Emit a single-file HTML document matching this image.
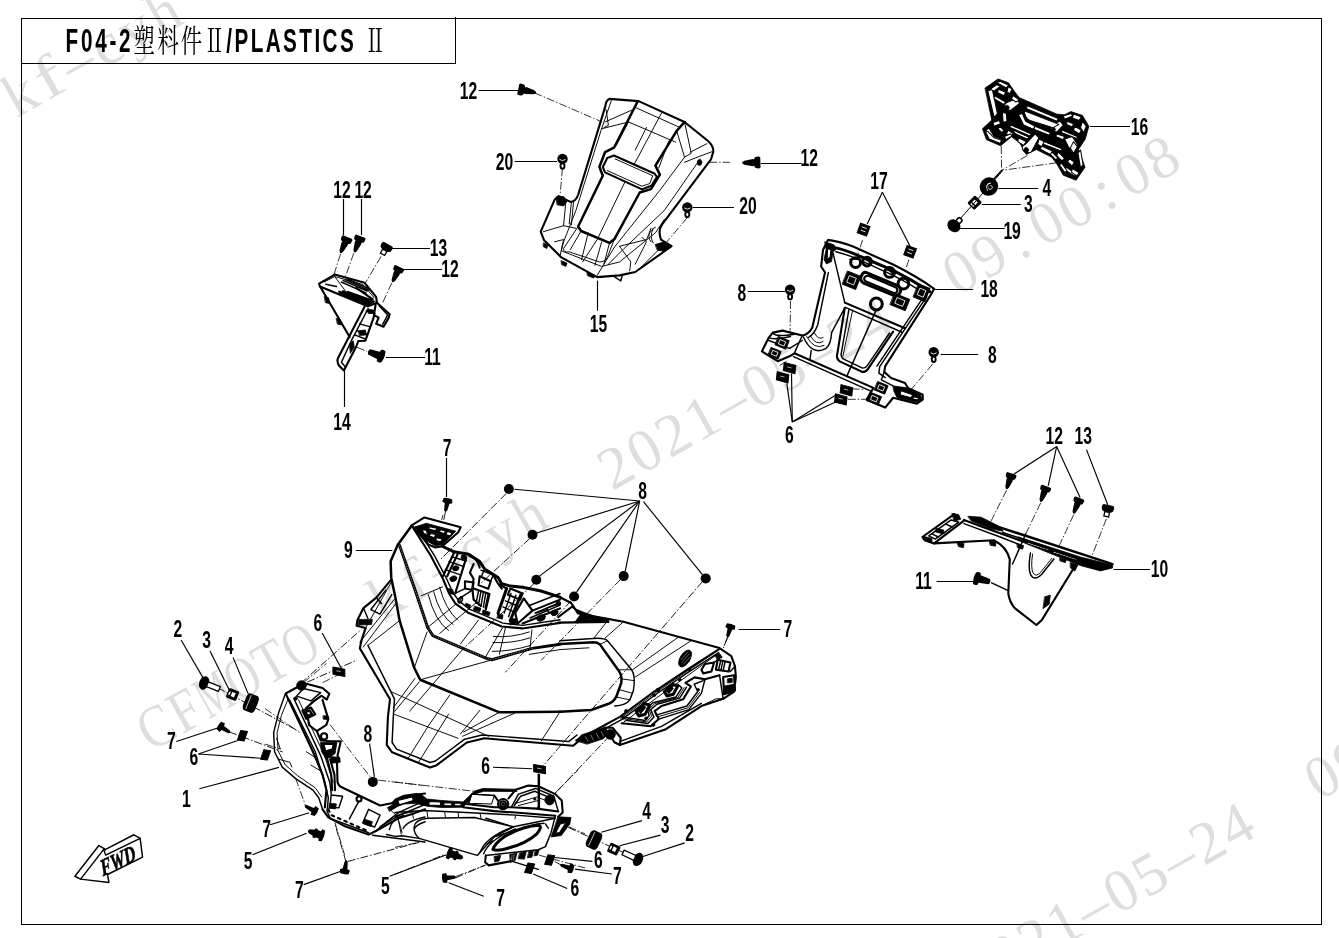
<!DOCTYPE html>
<html><head><meta charset="utf-8"><title>F04-2 PLASTICS II</title>
<style>
html,body{margin:0;padding:0;background:#fff;}
body{width:1339px;height:938px;overflow:hidden;font-family:"Liberation Sans",sans-serif;}
svg{display:block;}
svg{will-change:transform;opacity:0.9999;}
.lb{font-family:"Liberation Sans",sans-serif;font-weight:bold;font-size:23.9px;fill:#000;}
.tt{font-family:"Liberation Sans",sans-serif;font-weight:bold;font-size:32.3px;fill:#000;}
.tc{font-family:"Liberation Serif","Noto Serif CJK SC",serif;font-weight:normal;font-size:32.3px;fill:#000;}
.wm{font-family:"Liberation Serif",serif;font-size:60px;fill:#dedede;}
.ld{stroke:#000;stroke-width:1.15;fill:none;}
.dd{stroke:#000;stroke-width:1;fill:none;stroke-dasharray:9 2 2 2;}
.p{stroke:#000;fill:none;stroke-linejoin:round;stroke-linecap:round;}
.k{fill:#000;stroke:#000;stroke-linejoin:round;}
.w{fill:#fff;stroke:#000;stroke-linejoin:round;}
</style></head><body>
<svg width="1339" height="938" viewBox="0 0 1339 938">
<rect x="0" y="0" width="1339" height="938" fill="#fff"/>

<g id="wm">
<text class="wm" text-anchor="middle" transform="translate(165.8,743.9) rotate(-29.5) scale(0.85,1)">C</text>
<text class="wm" text-anchor="middle" transform="translate(194.5,727.6) rotate(-29.5) scale(0.85,1)">F</text>
<text class="wm" text-anchor="middle" transform="translate(223.2,711.4) rotate(-29.5) scale(0.62,1)">M</text>
<text class="wm" text-anchor="middle" transform="translate(251.9,695.1) rotate(-29.5) scale(0.75,1)">O</text>
<text class="wm" text-anchor="middle" transform="translate(280.6,678.9) rotate(-29.5) scale(0.85,1)">T</text>
<text class="wm" text-anchor="middle" transform="translate(309.4,662.6) rotate(-29.5) scale(0.75,1)">O</text>
<text class="wm" text-anchor="middle" transform="translate(395.5,613.9) rotate(-29.5) scale(1.0,1)">k</text>
<text class="wm" text-anchor="middle" transform="translate(424.3,597.6) rotate(-29.5) scale(1.3,1)">f</text>
<text class="wm" text-anchor="middle" transform="translate(453.0,581.4) rotate(-29.5) scale(1.0,1)">–</text>
<text class="wm" text-anchor="middle" transform="translate(481.7,565.1) rotate(-29.5) scale(1.0,1)">c</text>
<text class="wm" text-anchor="middle" transform="translate(510.4,548.9) rotate(-29.5) scale(1.0,1)">y</text>
<text class="wm" text-anchor="middle" transform="translate(539.1,532.6) rotate(-29.5) scale(0.95,1)">h</text>
<text class="wm" text-anchor="middle" transform="translate(625.3,483.9) rotate(-29.5) scale(1.0,1)">2</text>
<text class="wm" text-anchor="middle" transform="translate(654.0,467.6) rotate(-29.5) scale(1.0,1)">0</text>
<text class="wm" text-anchor="middle" transform="translate(682.8,451.4) rotate(-29.5) scale(1.0,1)">2</text>
<text class="wm" text-anchor="middle" transform="translate(711.5,435.1) rotate(-29.5) scale(1.0,1)">1</text>
<text class="wm" text-anchor="middle" transform="translate(740.2,418.9) rotate(-29.5) scale(1.0,1)">–</text>
<text class="wm" text-anchor="middle" transform="translate(768.9,402.6) rotate(-29.5) scale(1.0,1)">0</text>
<text class="wm" text-anchor="middle" transform="translate(797.6,386.4) rotate(-29.5) scale(1.0,1)">5</text>
<text class="wm" text-anchor="middle" transform="translate(826.4,370.1) rotate(-29.5) scale(1.0,1)">–</text>
<text class="wm" text-anchor="middle" transform="translate(855.1,353.9) rotate(-29.5) scale(1.0,1)">2</text>
<text class="wm" text-anchor="middle" transform="translate(883.8,337.6) rotate(-29.5) scale(1.0,1)">4</text>
<text class="wm" text-anchor="middle" transform="translate(970.0,288.9) rotate(-29.5) scale(1.0,1)">0</text>
<text class="wm" text-anchor="middle" transform="translate(998.7,272.6) rotate(-29.5) scale(1.0,1)">9</text>
<text class="wm" text-anchor="middle" transform="translate(1027.4,256.4) rotate(-29.5) scale(1.0,1)">:</text>
<text class="wm" text-anchor="middle" transform="translate(1056.1,240.1) rotate(-29.5) scale(1.0,1)">0</text>
<text class="wm" text-anchor="middle" transform="translate(1084.9,223.9) rotate(-29.5) scale(1.0,1)">0</text>
<text class="wm" text-anchor="middle" transform="translate(1113.6,207.6) rotate(-29.5) scale(1.0,1)">:</text>
<text class="wm" text-anchor="middle" transform="translate(1142.3,191.4) rotate(-29.5) scale(1.0,1)">0</text>
<text class="wm" text-anchor="middle" transform="translate(1171.0,175.1) rotate(-29.5) scale(1.0,1)">8</text>
<text class="wm" text-anchor="middle" transform="translate(-200.2,240.9) rotate(-29.5) scale(0.85,1)">C</text>
<text class="wm" text-anchor="middle" transform="translate(-171.5,224.6) rotate(-29.5) scale(0.85,1)">F</text>
<text class="wm" text-anchor="middle" transform="translate(-142.8,208.4) rotate(-29.5) scale(0.62,1)">M</text>
<text class="wm" text-anchor="middle" transform="translate(-114.1,192.1) rotate(-29.5) scale(0.75,1)">O</text>
<text class="wm" text-anchor="middle" transform="translate(-85.4,175.9) rotate(-29.5) scale(0.85,1)">T</text>
<text class="wm" text-anchor="middle" transform="translate(-56.6,159.6) rotate(-29.5) scale(0.75,1)">O</text>
<text class="wm" text-anchor="middle" transform="translate(29.5,110.9) rotate(-29.5) scale(1.0,1)">k</text>
<text class="wm" text-anchor="middle" transform="translate(58.3,94.6) rotate(-29.5) scale(1.3,1)">f</text>
<text class="wm" text-anchor="middle" transform="translate(87.0,78.4) rotate(-29.5) scale(1.0,1)">–</text>
<text class="wm" text-anchor="middle" transform="translate(115.7,62.1) rotate(-29.5) scale(1.0,1)">c</text>
<text class="wm" text-anchor="middle" transform="translate(144.4,45.9) rotate(-29.5) scale(1.0,1)">y</text>
<text class="wm" text-anchor="middle" transform="translate(173.1,29.6) rotate(-29.5) scale(0.95,1)">h</text>
<text class="wm" text-anchor="middle" transform="translate(259.3,-19.1) rotate(-29.5) scale(1.0,1)">2</text>
<text class="wm" text-anchor="middle" transform="translate(288.0,-35.4) rotate(-29.5) scale(1.0,1)">0</text>
<text class="wm" text-anchor="middle" transform="translate(316.8,-51.6) rotate(-29.5) scale(1.0,1)">2</text>
<text class="wm" text-anchor="middle" transform="translate(345.5,-67.9) rotate(-29.5) scale(1.0,1)">1</text>
<text class="wm" text-anchor="middle" transform="translate(374.2,-84.1) rotate(-29.5) scale(1.0,1)">–</text>
<text class="wm" text-anchor="middle" transform="translate(402.9,-100.4) rotate(-29.5) scale(1.0,1)">0</text>
<text class="wm" text-anchor="middle" transform="translate(431.6,-116.6) rotate(-29.5) scale(1.0,1)">5</text>
<text class="wm" text-anchor="middle" transform="translate(460.4,-132.9) rotate(-29.5) scale(1.0,1)">–</text>
<text class="wm" text-anchor="middle" transform="translate(489.1,-149.1) rotate(-29.5) scale(1.0,1)">2</text>
<text class="wm" text-anchor="middle" transform="translate(517.8,-165.4) rotate(-29.5) scale(1.0,1)">4</text>
<text class="wm" text-anchor="middle" transform="translate(604.0,-214.1) rotate(-29.5) scale(1.0,1)">0</text>
<text class="wm" text-anchor="middle" transform="translate(632.7,-230.4) rotate(-29.5) scale(1.0,1)">9</text>
<text class="wm" text-anchor="middle" transform="translate(661.4,-246.6) rotate(-29.5) scale(1.0,1)">:</text>
<text class="wm" text-anchor="middle" transform="translate(690.1,-262.9) rotate(-29.5) scale(1.0,1)">0</text>
<text class="wm" text-anchor="middle" transform="translate(718.9,-279.1) rotate(-29.5) scale(1.0,1)">0</text>
<text class="wm" text-anchor="middle" transform="translate(747.6,-295.4) rotate(-29.5) scale(1.0,1)">:</text>
<text class="wm" text-anchor="middle" transform="translate(776.3,-311.6) rotate(-29.5) scale(1.0,1)">0</text>
<text class="wm" text-anchor="middle" transform="translate(805.0,-327.9) rotate(-29.5) scale(1.0,1)">8</text>
<text class="wm" text-anchor="middle" transform="translate(527.8,1248.9) rotate(-29.5) scale(0.85,1)">C</text>
<text class="wm" text-anchor="middle" transform="translate(556.5,1232.6) rotate(-29.5) scale(0.85,1)">F</text>
<text class="wm" text-anchor="middle" transform="translate(585.2,1216.4) rotate(-29.5) scale(0.62,1)">M</text>
<text class="wm" text-anchor="middle" transform="translate(613.9,1200.1) rotate(-29.5) scale(0.75,1)">O</text>
<text class="wm" text-anchor="middle" transform="translate(642.6,1183.9) rotate(-29.5) scale(0.85,1)">T</text>
<text class="wm" text-anchor="middle" transform="translate(671.4,1167.6) rotate(-29.5) scale(0.75,1)">O</text>
<text class="wm" text-anchor="middle" transform="translate(757.5,1118.9) rotate(-29.5) scale(1.0,1)">k</text>
<text class="wm" text-anchor="middle" transform="translate(786.3,1102.6) rotate(-29.5) scale(1.3,1)">f</text>
<text class="wm" text-anchor="middle" transform="translate(815.0,1086.4) rotate(-29.5) scale(1.0,1)">–</text>
<text class="wm" text-anchor="middle" transform="translate(843.7,1070.1) rotate(-29.5) scale(1.0,1)">c</text>
<text class="wm" text-anchor="middle" transform="translate(872.4,1053.9) rotate(-29.5) scale(1.0,1)">y</text>
<text class="wm" text-anchor="middle" transform="translate(901.1,1037.6) rotate(-29.5) scale(0.95,1)">h</text>
<text class="wm" text-anchor="middle" transform="translate(987.3,988.9) rotate(-29.5) scale(1.0,1)">2</text>
<text class="wm" text-anchor="middle" transform="translate(1016.0,972.6) rotate(-29.5) scale(1.0,1)">0</text>
<text class="wm" text-anchor="middle" transform="translate(1044.8,956.4) rotate(-29.5) scale(1.0,1)">2</text>
<text class="wm" text-anchor="middle" transform="translate(1073.5,940.1) rotate(-29.5) scale(1.0,1)">1</text>
<text class="wm" text-anchor="middle" transform="translate(1102.2,923.9) rotate(-29.5) scale(1.0,1)">–</text>
<text class="wm" text-anchor="middle" transform="translate(1130.9,907.6) rotate(-29.5) scale(1.0,1)">0</text>
<text class="wm" text-anchor="middle" transform="translate(1159.6,891.4) rotate(-29.5) scale(1.0,1)">5</text>
<text class="wm" text-anchor="middle" transform="translate(1188.4,875.1) rotate(-29.5) scale(1.0,1)">–</text>
<text class="wm" text-anchor="middle" transform="translate(1217.1,858.9) rotate(-29.5) scale(1.0,1)">2</text>
<text class="wm" text-anchor="middle" transform="translate(1245.8,842.6) rotate(-29.5) scale(1.0,1)">4</text>
<text class="wm" text-anchor="middle" transform="translate(1332.0,793.9) rotate(-29.5) scale(1.0,1)">0</text>
<text class="wm" text-anchor="middle" transform="translate(1360.7,777.6) rotate(-29.5) scale(1.0,1)">9</text>
<text class="wm" text-anchor="middle" transform="translate(1389.4,761.4) rotate(-29.5) scale(1.0,1)">:</text>
<text class="wm" text-anchor="middle" transform="translate(1418.1,745.1) rotate(-29.5) scale(1.0,1)">0</text>
<text class="wm" text-anchor="middle" transform="translate(1446.9,728.9) rotate(-29.5) scale(1.0,1)">0</text>
<text class="wm" text-anchor="middle" transform="translate(1475.6,712.6) rotate(-29.5) scale(1.0,1)">:</text>
<text class="wm" text-anchor="middle" transform="translate(1504.3,696.4) rotate(-29.5) scale(1.0,1)">0</text>
<text class="wm" text-anchor="middle" transform="translate(1533.0,680.1) rotate(-29.5) scale(1.0,1)">8</text>
</g>
<g stroke="#000" stroke-width="1" fill="none" shape-rendering="crispEdges">
<path d="M21.5 18.5 H1321.5 V924.5 H21.5 Z" />
<path d="M21.5 63.5 H455.5 V17" />
</g>
<g id="title">
<text class="tt" transform="translate(65.6,51.6) scale(0.64,1)" letter-spacing="4.3">F04-2</text>
<text class="tc" transform="translate(133.5,51.6) scale(0.66,1)">塑</text>
<text class="tc" transform="translate(157.4,51.6) scale(0.66,1)">料</text>
<text class="tc" transform="translate(180.7,51.6) scale(0.66,1)">件</text>
<text class="tc" transform="translate(203.8,51.6) scale(0.66,1)">Ⅱ</text>
<text class="tt" transform="translate(226.3,51.6) scale(0.64,1)" letter-spacing="3.8">/PLASTICS</text>
<text class="tc" transform="translate(364.4,51.6) scale(0.66,1)">Ⅱ</text>
</g>
<!-- 01a_head_left.svg -->
<g transform="translate(265,675) scale(0.19185)" fill="none" stroke="#000" stroke-linejoin="round" stroke-linecap="round">

<path stroke-width="7.56" d="M105 100 L70 200 L45 300 L50 400 L90 480 L160 540 L250 600 L280 640 L300 700"/>
<path stroke-width="10.95" d="M300 700 L330 742 L420 790 L540 832 L580 812 L700 745 L780 720 L834 700"/>
<path stroke-width="4.95" d="M120 125 L86 210 L63 300 L68 395 L105 468 L170 525 L262 588 L295 635"/>
<path stroke-width="10.95" d="M108 98 L180 250 L250 400 L300 520 L320 600 L312 690"/>
<path stroke-width="7.56" d="M128 130 L262 400 L312 560 L330 640 L325 700"/>
<path stroke-width="7.56" d="M150 122 L290 420 L338 560 L345 620"/>
<path stroke-width="4.95" d="M175 130 L310 420 L355 560"/>
<path stroke-width="4.95" d="M60 330 L80 385 M75 440 L130 455 L140 480 M240 470 L290 500 M215 400 L262 430"/>
<path stroke-width="10.95" d="M110 95 L165 65 L200 42 L300 68 L335 98 L322 128 L295 108 L250 140 L215 172"/>
<path stroke-width="7.56" d="M200 70 L290 92 L240 135 L165 110 Z"/>
<circle fill="#000" stroke-width="4.17" cx="190" cy="55" r="25"/>
<circle fill="#000" stroke-width="4.17" cx="160" cy="122" r="9"/>
<path stroke-width="10.95" d="M300 130 L330 230 L320 260 L270 292 L230 262 L215 172"/>
<path stroke-width="10.95" d="M195 185 L240 170 L262 205 L215 228 Z"/>
<path fill="#000" stroke-width="4.17" d="M205 190 L235 180 L250 205 L218 220 Z"/>
<path fill="#fff" stroke-width="5.21" d="M218 194 L232 190 L238 203 L224 208 Z"/>
<path fill="#000" stroke-width="4.17" d="M305 212 L330 215 L328 232 L305 230 Z"/>
<path stroke-width="10.95" d="M270 292 L290 340 L340 345 L395 345 L378 420 L385 440"/>
<circle stroke-width="10.95" cx="308" cy="320" r="16"/>
<path fill="#000" stroke-width="4.17" d="M290 350 L375 352 L365 410 L320 440 L295 400 Z"/>
<path fill="#fff" stroke-width="5.21" d="M310 362 L355 362 L350 385 L318 395 Z"/>
<path fill="#000" stroke-width="4.17" d="M340 425 L390 430 L392 455 L345 460 Z"/>
<path stroke-width="10.95" d="M375 440 L378 560 Q385 580 400 585 L600 680 L660 668 L750 628 L834 618"/>
<path stroke-width="10.95" d="M325 440 L345 520 L350 600 M340 440 L362 520 L365 600"/>
<path stroke-width="7.56" d="M345 625 L405 632 L385 692 L338 690 Z"/>
<path fill="#000" stroke-width="4.17" d="M338 668 L372 672 L368 698 L335 695 Z"/>
<path stroke-width="7.56" d="M540 700 L600 730 L572 792 L510 770 Z"/>
<path fill="#000" stroke-width="4.17" d="M520 752 L560 765 L552 790 L512 775 Z"/>
<circle stroke-width="10.95" cx="490" cy="646" r="13"/>
<path stroke-width="7.56" d="M488 660 L440 750"/>
<path stroke-width="10.95" stroke-dasharray="14 22" d="M330 700 L345 730 L540 815"/>
<path stroke-width="7.56" d="M322 705 L340 748 L540 822"/>
<path stroke-width="7.56" d="M580 812 L640 760 L700 715 L834 655"/>
<path stroke-width="7.56" d="M600 790 L700 730 L834 675"/>
<path stroke-width="4.95" d="M690 730 L710 830 M650 700 L700 745"/>
<path fill="#000" stroke-width="4.17" d="M640 690 L700 660 L760 640 L765 655 L700 680 L650 710 Z"/>
<path stroke-width="7.56" d="M560 835 L834 870"/>
<path stroke-width="7.56" d="M720 800 Q740 760 834 740"/>
<path stroke-width="7.56" d="M780 800 Q790 780 834 765"/>
<path stroke-width="4.17" stroke-dasharray="41.7 10.4 7.8 10.4" stroke-linecap="butt" d="M340 260 L555 540"/>
<path stroke-width="4.17" stroke-dasharray="41.7 10.4 7.8 10.4" stroke-linecap="butt" d="M590 548 L820 575"/>
<path stroke-width="4.17" stroke-dasharray="41.7 10.4 7.8 10.4" stroke-linecap="butt" d="M160 540 L215 690"/>
<path stroke-width="4.17" stroke-dasharray="41.7 10.4 7.8 10.4" stroke-linecap="butt" d="M365 770 L415 938"/>
<path stroke-width="4.17" stroke-dasharray="41.7 10.4 7.8 10.4" stroke-linecap="butt" d="M0 175 L180 300"/>
<path stroke-width="4.17" stroke-dasharray="41.7 10.4 7.8 10.4" stroke-linecap="butt" d="M0 360 L80 385"/>
<path stroke-width="4.17" stroke-dasharray="41.7 10.4 7.8 10.4" stroke-linecap="butt" d="M200 40 L320 -60"/>
<path stroke-width="4.17" stroke-dasharray="41.7 10.4 7.8 10.4" stroke-linecap="butt" d="M300 40 L400 -10"/>

</g>

<!-- 01b_head_right.svg -->
<g transform="translate(395,770) scale(0.14190)" fill="none" stroke="#000" stroke-linejoin="round" stroke-linecap="round">

<path fill="#000" stroke-width="5.64" d="M-24 234 L0 205 L60 178 L150 165 L185 172 L225 205 L330 215 L480 225 L560 148 L620 130 L850 136 L860 152 L625 150 L575 165 L500 240 L480 262 L330 265 L225 255 L150 235 L60 240 L0 262 Z"/>
<path fill="#fff" stroke-width="7.05" d="M240 222 L320 226 L320 250 L240 246 Z M345 230 L400 232 L400 252 L345 250 Z M420 234 L465 235 L465 252 L420 252 Z"/>
<path fill="#fff" stroke-width="7.05" d="M20 215 L120 190 L130 215 L30 245 Z"/>
<path fill="#000" stroke-width="5.64" d="M150 180 L215 210 L215 250 L160 235 Z"/>
<path stroke-width="14.80" d="M850 140 L940 110 L1010 115 L1130 170 L1175 215 L1182 300 L1150 330"/>
<path stroke-width="14.80" d="M480 262 L700 290 L850 300 L1130 322"/>
<path stroke-width="14.80" d="M500 240 L700 262 L820 262 L1000 272 L1150 292"/>
<path fill="#fff" stroke-width="7.05" d="M540 170 L700 180 L680 240 L520 235 Z"/>
<path stroke-width="10.22" d="M520 235 L540 170 L700 180"/>
<circle stroke-width="14.80" cx="762" cy="240" r="36"/>
<circle stroke-width="14.80" cx="762" cy="240" r="20"/>
<circle fill="#000" stroke-width="5.64" cx="762" cy="240" r="9"/>
<path stroke-width="14.80" d="M700 180 L725 215 M800 200 L850 140"/>
<path stroke-width="10.22" d="M820 262 L870 170 L990 130 L1120 185 L1150 290"/>
<path stroke-width="10.22" d="M840 250 L885 185 L985 150 L1090 195"/>
<path stroke-width="6.69" d="M850 235 L1000 190 L1100 230 M870 250 L1010 215"/>
<circle fill="#000" stroke-width="5.64" cx="1090" cy="212" r="34"/>
<path stroke-width="10.22" d="M1010 30 L1010 270"/>
<circle fill="#000" stroke-width="5.64" cx="1010" cy="270" r="10"/><circle fill="#000" stroke-width="5.64" cx="985" cy="205" r="8"/>
<path stroke-width="10.22" d="M0 300 L200 285 L500 300 L850 318 L1125 340"/>
<path stroke-width="10.22" d="M0 330 Q60 300 130 292 M-40 420 Q-20 340 60 320"/>
<path stroke-width="6.69" d="M20 340 L50 440 M120 296 L130 340 M225 290 L232 335 M350 292 L355 335 M445 298 L448 335 M600 305 L605 338 M850 320 L845 345"/>
<path stroke-width="10.22" d="M-60 455 L0 468 L50 463 L170 482"/>
<path stroke-width="10.22" d="M135 400 Q140 350 230 340 L560 335 L835 400 L700 470 L600 580 L580 602 L170 482 Q130 445 135 400 Z"/>
<path stroke-width="10.22" d="M835 400 L1130 340 M640 340 L800 390"/>
<path stroke-width="10.22" d="M700 470 L1000 380 L1050 375"/>
<path stroke-width="10.22" d="M600 580 Q640 470 835 400"/>
<path stroke-width="10.22" d="M625 590 Q665 490 850 415"/>
<path stroke-width="21.14" d="M690 560 Q700 520 770 470 Q900 395 1015 390 Q1040 400 1000 450 Q920 520 800 550 Q720 575 690 560 Z"/>
<path stroke-width="10.22" d="M1130 322 L1100 440 L1060 540 L1010 562 L640 602"/>
<path stroke-width="10.22" d="M1060 380 L1080 410 M650 520 L690 500"/>
<path fill="#000" stroke-width="5.64" d="M1150 330 L1240 335 L1232 380 L1172 462 L1100 472 L1125 400 Z"/>
<path fill="#fff" stroke-width="7.05" d="M1165 380 L1205 370 L1160 440 L1130 445 Z"/>
<path stroke-width="14.80" d="M640 602 L635 650 L660 672 L820 642"/>
<path fill="#000" stroke-width="5.64" d="M700 610 L745 600 L735 640 L705 648 Z"/>
<path fill="#000" stroke-width="5.64" d="M810 595 L860 585 L845 640 L815 650 Z"/>
<path stroke="#fff" stroke-width="3" d="M825 600 L820 640 M840 595 L832 640"/>
<path fill="#000" stroke-width="5.64" d="M880 585 L925 575 L912 628 L870 625 Z M945 575 L975 570 L965 615 L935 618 Z M990 568 L1015 562 L1005 600 L982 605 Z"/>
<path stroke-width="10.22" d="M820 642 L1010 700"/>
<path stroke-width="5.64" stroke-dasharray="56.4 14.1 10.6 14.1" stroke-linecap="butt" d="M0 85 L560 150"/>
<path stroke-width="5.64" stroke-dasharray="56.4 14.1 10.6 14.1" stroke-linecap="butt" d="M1130 160 L1290 0"/>
<path stroke-width="5.64" stroke-dasharray="56.4 14.1 10.6 14.1" stroke-linecap="butt" d="M1225 400 L1339 450"/>
<path stroke-width="5.64" stroke-dasharray="56.4 14.1 10.6 14.1" stroke-linecap="butt" d="M0 545 L170 510"/>
<path stroke-width="5.64" stroke-dasharray="56.4 14.1 10.6 14.1" stroke-linecap="butt" d="M0 735 L350 595"/>
<path stroke-width="5.64" stroke-dasharray="56.4 14.1 10.6 14.1" stroke-linecap="butt" d="M430 750 L640 670"/>
<path stroke-width="5.64" stroke-dasharray="56.4 14.1 10.6 14.1" stroke-linecap="butt" d="M1015 600 L1339 690"/>

</g>

<!-- 09a_body.svg -->
<g transform="translate(350,505) scale(0.29873)" fill="none" stroke="#000" stroke-linejoin="round" stroke-linecap="round">

<path stroke-width="8.37" d="M207 69 L160 133 L136 188 L138 244 L152 310 L166 387 L215 545 L235 585 L500 694 L703 692"/>
<path stroke-width="10.04" d="M166 136 L219 288 L260 410 L277 437 L459 514 L475 518 L610 480 L703 466"/>
<path stroke="#fff" stroke-width="1.6" stroke-dasharray="2 7" d="M166 136 L219 288 L260 410 L277 437 L459 514 L475 518 L610 480"/>
<path stroke-width="3.18" d="M600 500 L703 484 L800 478"/>
<path stroke-width="7.03" d="M138 250 L88 310 L45 345 L25 385 L22 404 L52 412"/>
<path stroke-width="4.85" d="M120 285 L70 350 L100 365 L140 300"/>
<path fill="#000" stroke-width="2.68" d="M30 383 L75 383 L72 400 L28 402 Z"/>
<path stroke-width="4.85" d="M45 345 L60 380 M88 310 L105 330"/>
<path stroke-width="7.03" d="M52 412 L38 455 L33 480 L134 650 L127 708 L123 803 L141 828 L268 879 L290 871 L391 795 L450 781 L747 806 L768 788 L856 745"/>
<path stroke-width="4.85" d="M60 470 L149 650 L145 708 L141 795 L156 817 L268 862 L286 857 L384 784 L442 770 L732 792 L760 770"/>
<path stroke-width="3.18" d="M149 315 L33 459 M152 332 L44 476 M166 387 L60 470 M140 255 L52 412"/>
<path stroke-width="3.18" d="M138 625 L464 774"/>
<path stroke-width="3.18" d="M149 701 L362 781"/>
<path stroke-width="3.18" d="M334 636 L262 740 L196 846"/>
<path stroke-width="3.18" d="M217 581 L145 679 M232 592 L150 690"/>
<path stroke-width="3.18" d="M435 687 L370 766 M551 697 L377 774 M500 694 L380 760"/>
<path stroke-width="3.18" d="M700 697 L640 790"/>
<path stroke-width="3.18" d="M609 418 L602 484"/>
<path stroke-width="3.18" d="M238 304 L310 274"/>
<path stroke-width="3.18" d="M300 275 Q320 350 360 385 M280 290 Q300 370 345 400 M262 300 Q285 390 330 420"/>
<path stroke-width="3.18" d="M260 410 L354 332 M300 430 L425 325 M370 465 L430 385 M453 510 L510 412"/>
<path stroke-width="3.18" d="M480 440 Q540 445 600 425 M478 460 Q540 465 602 445 M476 490 Q540 490 605 470"/>
<path stroke-width="3.18" d="M215 545 L258 425"/>
<path stroke-width="3.18" d="M470 520 L235 585"/>
<path stroke-width="3.18" d="M380 480 L200 690 M330 700 L230 860"/>
<path stroke-width="3.18" d="M520 412 L500 500"/>

</g>

<!-- 09b_wing.svg -->
<g transform="translate(560,590) scale(0.18129)" fill="none" stroke="#000" stroke-linejoin="round" stroke-linecap="round">

<path fill="#000" stroke-width="4.41" d="M65 95 L123 120 L193 145 L267 162 L267 178 L82 178 L115 132 Z"/>
<path fill="#fff" stroke-width="5.52" d="M150 160 L175 155 L172 163 Z M205 163 L232 162 L230 168 L205 168 Z"/>
<path stroke-width="11.58" d="M-10 180 L267 176"/>
<path stroke-width="11.58" d="M73 87 L-10 150"/>
<path stroke-width="11.58" d="M-20 30 L60 70 L100 130 L240 155 L350 175 L880 320 L945 365 L965 420 L970 480 L960 560 L900 600 L780 640 L580 770 L330 855 L300 840 L270 790"/>
<path stroke-width="13.79" d="M0 298 L185 288 Q205 288 220 300 L320 440 Q345 470 338 512 L310 590 Q295 618 272 626 L172 662 L0 672"/>
<path stroke-width="8.00" d="M0 280 L180 268 Q245 262 262 280 L395 440 Q418 470 405 555 L385 606 Q365 635 302 640"/>
<path stroke-width="5.24" d="M345 180 L250 264 M270 160 L185 268 M220 300 L262 280 M320 440 L395 440 M338 490 L410 500 M310 590 L385 606 M328 550 L400 570"/>
<path stroke-width="5.24" d="M400 440 L650 262 M415 480 L720 282"/>
<ellipse fill="#000" stroke-width="4.41" cx="690" cy="378" rx="27" ry="52" transform="rotate(32 690 378)"/>
<path stroke="#fff" stroke-width="2" d="M672 400 L712 352 M668 385 L705 342 M680 410 L718 368"/>
<path stroke-width="11.58" d="M880 325 L700 440 L520 560 L330 700 L90 830"/>
<path stroke-width="8.00" d="M875 345 L700 458 L530 575 L340 715 L120 835"/>
<path stroke-width="5.24" d="M868 335 L525 568 L335 708 M860 360 L540 590 L350 730"/>
<path fill="#000" stroke-width="4.41" d="M90 830 L120 798 L250 758 L270 790 L240 820 L150 850 Z"/>
<path stroke="#fff" stroke-width="2.5" d="M140 810 L155 835 M170 800 L185 828 M200 790 L215 818 M228 782 L240 806"/>
<circle fill="#000" stroke-width="4.41" cx="278" cy="797" r="27"/>
<path stroke-width="11.58" d="M255 760 L290 760 L335 815 L330 855"/>
<path stroke-width="11.58" d="M340 735 L500 752 L545 712 L522 668 L560 640 L680 602 L722 532 L692 512 L742 482 L800 492 L880 470"/>
<path stroke-width="8.00" d="M345 700 L470 720 L492 692 L480 652 L512 622 L640 590 L672 540 L650 520"/>
<path stroke-width="8.00" d="M360 718 L485 736 L518 700 L500 660 L535 630 L660 596 L698 536"/>
<path stroke-width="8.00" d="M530 690 L700 640 L760 560 L740 520 L790 500"/>
<path stroke-width="8.00" d="M545 712 L710 660 L780 570 L800 492"/>
<path stroke-width="5.24" d="M538 700 L705 650 L770 565 M352 709 L478 728 L505 696 L490 656 L524 626 L650 593 L685 538"/>
<path stroke-width="16.55" d="M575 560 L620 520 L650 530 L625 575 L590 585 Z"/>
<path stroke-width="16.55" d="M420 670 L465 625 L495 635 L470 685 L435 695 Z"/>
<path fill="#000" stroke-width="4.41" d="M585 555 L615 530 L625 545 L600 572 Z M430 665 L462 635 L472 650 L445 682 Z"/>
<circle fill="#000" stroke-width="4.41" cx="540" cy="552" r="10"/><circle fill="#000" stroke-width="4.41" cx="520" cy="580" r="8"/><circle fill="#000" stroke-width="4.41" cx="660" cy="495" r="8"/><circle fill="#000" stroke-width="4.41" cx="715" cy="440" r="7"/>
<circle fill="#000" stroke-width="4.41" cx="365" cy="668" r="9"/><circle fill="#000" stroke-width="4.41" cx="350" cy="705" r="8"/><circle fill="#000" stroke-width="4.41" cx="475" cy="708" r="8"/><circle fill="#000" stroke-width="4.41" cx="515" cy="745" r="8"/><circle fill="#000" stroke-width="4.41" cx="762" cy="550" r="7"/>
<path stroke-width="11.58" d="M780 440 L800 408 L850 400 L835 450 L790 460 Z"/>
<path stroke-width="11.58" d="M870 385 L940 400 L930 450 L860 440 Z"/>
<path stroke-width="8.00" d="M850 400 L870 385 M885 395 L875 440 M910 398 L900 445 M897 396 L888 442"/>
<path fill="#000" stroke-width="4.41" d="M855 360 L880 350 L895 372 L868 382 Z"/>
<path stroke-width="11.58" d="M900 480 L960 470 L965 555 L905 575 Z"/>
<path fill="#000" stroke-width="4.41" d="M905 530 L960 520 L960 560 L910 572 Z M925 490 L950 487 L950 510 L925 512 Z"/>
<path stroke-width="8.00" d="M880 470 L900 600 M940 450 L965 420"/>
<path stroke-width="8.00" d="M340 832 L560 752 L780 625"/>
<path stroke-width="5.24" d="M780 640 L860 600 L900 600"/>
<path stroke-width="4.41" stroke-dasharray="44.1 11.0 8.3 11.0" stroke-linecap="butt" d="M930 250 L900 320"/>

</g>

<!-- 09c_mech.svg -->
<g transform="translate(400,515) scale(0.12261)" fill="none" stroke="#000" stroke-linejoin="round" stroke-linecap="round">

<path stroke-width="17.13" d="M95 85 L200 20 L495 100 L475 140 L345 255 L290 265 L230 240 Z"/>
<path fill="#000" stroke-width="6.52" d="M120 98 L215 68 L455 132 L350 240 L292 252 L205 205 Z"/>
<path fill="#fff" stroke-width="8.16" d="M240 95 L300 108 L292 128 L235 115 Z M330 120 L370 130 L362 150 L322 140 Z M385 135 L425 145 L410 170 L375 160 Z M250 150 L290 160 L280 185 L240 170 Z M300 185 L345 195 L330 218 L290 208 Z M180 120 L215 125 L225 160 L195 150 Z"/>
<path stroke-width="17.13" d="M95 85 L250 330 L350 520 L400 640 L450 720 L560 800 L830 910 L1000 925 L1305 880"/>
<path stroke-width="11.83" d="M130 95 L280 330 L380 520 L430 630 L480 700 L570 770 L840 882 L1000 900 L1305 855"/>
<path stroke-width="24.47" d="M345 255 L440 300 L560 320 L650 380 L690 440 L800 510 L830 560 L900 580 L1000 590 L1150 620 L1305 670"/>
<path stroke-width="17.13" d="M440 310 L350 500 M540 350 L450 640 M470 320 L385 500"/>
<path stroke-width="11.83" d="M400 380 L520 420 M380 450 L500 490 M420 340 L540 375"/>
<circle fill="#000" stroke-width="6.52" cx="520" cy="345" r="22"/>
<ellipse fill="#000" stroke-width="6.52" cx="455" cy="435" rx="26" ry="20" transform="rotate(-20 455 435)"/>
<ellipse fill="#000" stroke-width="6.52" cx="435" cy="520" rx="30" ry="21" transform="rotate(-20 435 520)"/>
<path fill="#000" stroke-width="6.52" d="M395 600 L430 610 L440 650 L410 640 Z"/>
<path stroke-width="17.13" d="M600 400 L570 470 L600 520 L590 600 L600 690 L660 742"/>
<path stroke-width="17.13" d="M560 330 Q640 360 650 430"/>
<path stroke-width="17.13" d="M530 540 L600 550 L590 612 L530 600 Z"/>
<path stroke-width="17.13" d="M650 500 L740 540 L720 602 L640 572 Z"/>
<path stroke-width="11.83" d="M660 450 L760 490 L740 540 M690 440 L665 500"/>
<path stroke-width="11.83" d="M640 620 L620 720 M660 625 L640 735 M680 630 L660 745 M700 635 L680 752 M720 640 L695 760"/>
<path stroke-width="17.13" d="M600 600 L730 645 L700 770"/>
<ellipse fill="#000" stroke-width="6.52" cx="492" cy="692" rx="18" ry="30" transform="rotate(25 492 692)"/>
<circle cx="492" cy="692" r="9" stroke="#fff" stroke-width="3" fill="none"/>
<path fill="#000" stroke-width="6.52" d="M610 745 L660 760 L650 790 L600 775 Z M680 775 L735 795 L725 822 L672 805 Z M540 720 L575 735 L568 760 L535 745 Z"/>
<path stroke-width="11.83" d="M450 640 L530 600 M470 690 L590 612"/>
<path stroke-width="24.47" d="M870 600 L800 800 M990 640 L900 860"/>
<path stroke-width="17.13" d="M900 600 L1000 640 L980 690 L880 650 Z"/>
<path stroke-width="11.83" d="M860 700 L960 742 M840 750 L940 795 M905 640 L850 800 M945 655 L885 830"/>
<path fill="#000" stroke-width="6.52" d="M895 850 L945 845 L950 890 L900 895 Z M800 805 L840 815 L835 850 L795 840 Z"/>
<path stroke-width="17.13" d="M760 490 L800 560 L830 600 M800 560 L870 600"/>
<path stroke-width="17.13" d="M1010 680 L1080 780 L960 885 L940 800 Z"/>
<path stroke-width="17.13" d="M1080 780 L1305 690 M1000 885 L1305 762"/>
<path stroke-width="11.83" d="M1050 740 L1305 640 M1060 840 L1305 735 M1100 800 L1305 712"/>
<ellipse fill="#000" stroke-width="6.52" cx="1150" cy="840" rx="36" ry="24" transform="rotate(-20 1150 840)"/>
<ellipse fill="#000" stroke-width="6.52" cx="1260" cy="798" rx="30" ry="22" transform="rotate(-20 1260 798)"/>
<circle fill="#000" stroke-width="6.52" cx="1292" cy="722" r="18"/>
<path stroke-width="11.83" d="M1110 800 L1200 770 L1215 800 M1200 760 L1300 725"/>
<path stroke-width="6.52" stroke-dasharray="65.2 16.3 12.2 16.3" stroke-linecap="butt" d="M350 0 L340 40"/>

</g>

<!-- 10_bracket.svg -->
<g transform="translate(900,440) scale(0.21317)" fill="none" stroke="#000" stroke-linejoin="round" stroke-linecap="round">

<path stroke-width="9.85" d="M255 348 L105 455 L115 470 L160 485 L300 378"/>
<path stroke-width="6.80" d="M240 375 L135 450 L165 465 L275 385 Z"/>
<path stroke-width="6.80" d="M215 395 L245 408 M180 420 L210 435 M150 440 L180 455"/>
<path fill="#000" stroke-width="3.75" d="M245 345 L275 350 L285 372 L255 380 Z"/>
<path fill="#000" stroke-width="3.75" d="M110 452 L150 462 L150 478 L115 470 Z"/>
<path fill="#000" stroke-width="3.75" d="M170 415 L205 422 L200 440 L168 432 Z"/>
<path fill="#000" stroke-width="3.75" d="M320 358 L380 362 L468 406 L484 428 L424 416 L335 380 Z"/>
<path stroke-width="11.73" d="M468 410 L997 582"/>
<path stroke-width="6.80" d="M482 434 L806 540"/>
<path fill="#000" stroke-width="3.75" d="M556 455 L850 550 L997 586 L997 600 L940 614 L850 590 L700 530 L556 472 Z"/>
<path fill="#fff" stroke-width="4.69" d="M600 480 L700 514 L698 520 L598 487 Z M720 522 L830 558 L828 564 L718 529 Z"/>
<path stroke-width="9.85" d="M300 375 L420 420 L560 470"/>
<path stroke-width="9.85" d="M160 485 L440 470 Q500 500 515 560 L508 720 Q515 765 540 790 L640 868 L665 845 L822 590"/>
<path stroke-width="6.80" d="M300 392 L470 455 L560 490"/>
<path stroke-width="6.80" d="M590 440 L528 582"/>
<path stroke-width="6.80" d="M612 530 Q600 600 612 630 Q630 665 665 630 L722 558"/>
<path stroke-width="4.46" d="M622 535 Q612 600 625 625 Q640 645 662 618 L712 555"/>
<path fill="#000" stroke-width="3.75" d="M270 482 L300 485 L298 505 L275 500 Z"/>
<path fill="#000" stroke-width="3.75" d="M420 475 L450 478 L448 498 L425 494 Z"/>
<path fill="#000" stroke-width="3.75" d="M550 488 L580 495 L575 512 L552 505 Z"/>
<path fill="#000" stroke-width="3.75" d="M750 555 L780 562 L776 575 L752 568 Z"/>
<path fill="#000" stroke-width="3.75" d="M800 575 L835 585 L820 615 L800 600 Z"/>

<path fill="#000" stroke-width="3.75" d="M680 735 L705 728 L700 770 L672 790 Z"/>
<path stroke-width="3.75" stroke-dasharray="37.5 9.4 7.0 9.4" stroke-linecap="butt" d="M500 235 L425 385"/>
<path stroke-width="3.75" stroke-dasharray="37.5 9.4 7.0 9.4" stroke-linecap="butt" d="M660 295 L590 440"/>
<path stroke-width="3.75" stroke-dasharray="37.5 9.4 7.0 9.4" stroke-linecap="butt" d="M815 350 L745 500"/>
<path stroke-width="3.75" stroke-dasharray="37.5 9.4 7.0 9.4" stroke-linecap="butt" d="M968 370 L900 545"/>
<path stroke-width="6.80" d="M430 670 L505 705"/>

</g>

<!-- 14_bracket.svg -->
<g transform="translate(310,225) scale(0.16529)" fill="none" stroke="#000" stroke-linejoin="round" stroke-linecap="round">

<path stroke-width="12.71" d="M55 355 L150 300 L330 350 L400 435 L405 470 L350 492 L60 372 Z"/>
<path stroke-width="5.75" d="M85 345 L150 312 L320 360 L388 440"/>
<path stroke-width="5.75" d="M150 312 L215 400"/>
<path stroke-width="8.77" d="M200 335 L345 400 M215 330 L355 395 M230 328 L365 390 M190 345 L340 412"/>
<path stroke-width="12.71" d="M180 405 L345 470 M200 400 L350 458 M230 405 L370 455 M280 380 L380 450"/>
<path fill="#000" stroke-width="4.84" d="M175 400 L300 440 L395 462 L350 488 L180 420 Z"/>
<path stroke-width="8.77" d="M95 358 L160 372"/>
<path stroke-width="12.71" d="M62 374 L240 678"/>
<path stroke-width="12.71" d="M330 495 L168 808 Q162 825 175 850 L205 880 L280 735 L292 702 L335 700 L385 560 L397 480"/>
<path stroke-width="8.77" d="M352 505 L255 690 L190 830 L215 860"/>
<path stroke-width="8.77" d="M340 520 L392 535 M300 598 L360 615 M270 665 L335 690 M285 640 L345 660"/>
<path stroke-width="12.71" d="M405 470 L482 540 L476 562 L445 615 L400 598 L415 560 L388 545"/>
<path stroke-width="8.77" d="M420 490 L470 545 L440 600"/>
<path fill="#000" stroke-width="4.84" d="M350 510 L385 515 L385 535 L355 535 Z"/>
<path fill="#000" stroke-width="4.84" d="M295 640 L335 635 L340 665 L300 668 Z"/>
<path fill="#000" stroke-width="4.84" d="M240 720 L262 700 L268 740 L245 775 Z"/>
<path fill="#000" stroke-width="4.84" d="M88 432 L112 440 L118 475 L95 470 Z"/>
<path fill="#000" stroke-width="4.84" d="M160 565 L185 575 L190 605 L168 600 Z"/>
<path stroke-width="4.84" stroke-dasharray="48.4 12.1 9.1 12.1" stroke-linecap="butt" d="M185 175 L145 300"/>
<path stroke-width="4.84" stroke-dasharray="48.4 12.1 9.1 12.1" stroke-linecap="butt" d="M265 170 L215 310"/>
<path stroke-width="4.84" stroke-dasharray="48.4 12.1 9.1 12.1" stroke-linecap="butt" d="M430 190 L335 350"/>
<path stroke-width="4.84" stroke-dasharray="48.4 12.1 9.1 12.1" stroke-linecap="butt" d="M495 350 L435 480"/>
<path stroke-width="4.84" stroke-dasharray="48.4 12.1 9.1 12.1" stroke-linecap="butt" d="M285 740 L345 765"/>

</g>

<!-- 15_windshield.svg -->
<g transform="translate(530,85) scale(0.22396)" fill="none" stroke="#000" stroke-linejoin="round" stroke-linecap="round">

<path stroke-width="9.38" d="M355 62 L485 72 L690 165 L795 250 Q822 275 818 300 L808 332 L590 622 Q570 650 585 690 L632 720 L470 835 L400 850 L300 858 L140 770 L62 692 L48 655 L110 512 L128 496 L180 522 Q205 520 215 490 L335 100 Q340 65 355 62 Z"/>
<path stroke-width="11.16" d="M480 75 L375 280 L335 300 L310 365 L325 405 L215 632 L228 652 L355 705 L377 688 L490 480 L540 465 L580 400 L560 360 L655 205 L690 165"/>
<path stroke-width="4.24" d="M363 70 L318 200 L205 560 L150 700 L140 740 L190 760 L320 810 L400 790 L560 660 L600 600"/>
<path stroke-width="4.24" d="M340 110 L350 180 L330 190"/>
<path stroke-width="4.24" d="M335 165 L455 112"/>
<path stroke-width="4.24" d="M322 195 L440 165 L650 255"/>
<path stroke-width="4.24" d="M470 100 L670 190"/>
<path stroke-width="4.24" d="M590 120 L430 420 L300 690 L235 790"/>
<path stroke-width="4.24" d="M520 190 L470 290"/>
<path stroke-width="4.24" d="M440 165 L385 270"/>
<path stroke-width="4.24" d="M690 165 L720 305 L690 322 L580 470 L380 720 L330 800"/>
<path stroke-width="4.24" d="M812 298 L740 325 L690 345"/>
<path stroke-width="4.24" d="M790 262 L715 300"/>
<path stroke-width="4.24" d="M760 330 L600 560 L420 730 L350 800"/>
<path stroke-width="4.24" d="M655 205 L690 322"/>
<path stroke-width="4.24" d="M620 250 L575 370"/>
<path stroke-width="4.24" d="M215 632 L150 730 Q150 750 175 745 L310 790 Q335 790 345 770 L377 688"/>
<path stroke-width="4.24" d="M228 652 L180 735"/>
<path stroke-width="4.24" d="M60 655 L150 628 L205 640"/>
<path stroke-width="4.24" d="M150 628 L160 520"/>
<path stroke-width="4.24" d="M110 700 L150 690 L135 760"/>
<path stroke-width="4.24" d="M185 522 L175 620"/>
<path stroke-width="4.24" d="M195 515 L185 625"/>
<path stroke-width="4.24" d="M260 660 L230 780"/>
<path stroke-width="4.24" d="M320 700 L290 805"/>
<path stroke-width="4.24" d="M400 720 L450 790 L445 830"/>
<path stroke-width="4.24" d="M355 705 L330 800 L300 850"/>
<path stroke-width="4.24" d="M560 635 Q540 640 520 690 L400 720"/>
<path stroke-width="4.24" d="M540 640 Q520 680 540 700"/>
<path stroke-width="4.24" d="M550 640 Q532 680 550 705"/>
<path stroke-width="4.24" d="M500 680 L520 700 L470 800"/>
<path stroke-width="4.24" d="M590 720 L480 830"/>
<path stroke-width="9.38" fill="#fff" d="M375 315 L555 395 L567 410 L542 450 L500 466 L335 390 L325 366 L345 326 Z"/>
<path stroke-width="4.24" d="M380 330 L548 405 L535 440 L500 452 L345 382"/>
<path fill="#000" stroke-width="3.57" d="M118 500 L150 498 L165 520 L150 540 L122 535 Z"/>
<path fill="#000" stroke-width="3.57" d="M560 712 L600 700 L630 722 L600 742 L570 738 Z"/>
<ellipse fill="#000" stroke-width="3.57" cx="757" cy="346" rx="10" ry="13"/>
<path fill="#000" stroke-width="3.57" d="M62 705 L80 715 L75 730 L60 722 Z"/>
<path fill="#000" stroke-width="3.57" d="M140 785 L165 795 L160 810 L142 802 Z"/>
<path fill="#000" stroke-width="3.57" d="M255 838 L290 850 L285 862 L258 852 Z"/>
<path stroke-width="6.47" d="M375 855 L405 875 L412 850"/>
<path stroke-width="3.57" stroke-dasharray="35.7 8.9 6.7 8.9" stroke-linecap="butt" d="M20 35 L322 165"/>
<path stroke-width="3.57" stroke-dasharray="35.7 8.9 6.7 8.9" stroke-linecap="butt" d="M145 372 L134 495"/>
<path stroke-width="3.57" stroke-dasharray="35.7 8.9 6.7 8.9" stroke-linecap="butt" d="M702 592 L608 704"/>
<path stroke-width="3.57" stroke-dasharray="35.7 8.9 6.7 8.9" stroke-linecap="butt" d="M800 345 L893 345"/>

</g>

<!-- 16_bracket.svg -->
<g transform="translate(975,70) scale(0.12793)" fill="none" stroke="#000" stroke-linejoin="round" stroke-linecap="round">

<path fill="#000" stroke-width="6.25" d="M80 140 L180 70 L262 100 L310 170 L345 215 L640 345 L700 350 L750 325 L840 355 L890 440 L862 540 L810 620 L860 760 L790 862 L690 822 L640 735 L600 682 L480 622 L400 660 L350 570 L285 522 L200 592 L90 545 L58 460 L130 392 Z"/>
<path fill="#fff" stroke-width="7.82" d="M170 100 L195 88 L262 118 L245 140 Z"/>
<path fill="#fff" stroke-width="7.82" d="M100 165 L135 150 L175 340 L150 370 Z"/>
<path fill="#fff" stroke-width="7.82" d="M260 130 L290 150 L270 185 L250 170 Z"/>
<path fill="#fff" stroke-width="7.82" d="M150 200 L240 250 L225 270 L150 225 Z"/>
<path fill="#fff" stroke-width="7.82" d="M235 290 Q225 265 250 255 L320 225 L350 260 L285 310 Q250 325 235 290 Z"/>
<ellipse fill="#000" stroke-width="6.25" cx="250" cy="295" rx="16" ry="20"/>
<path fill="#fff" stroke-width="7.82" d="M385 318 L640 418 L605 445 L430 388 Q395 370 385 318 Z"/>
<path fill="#fff" stroke-width="7.82" d="M340 350 L370 340 L395 400 L470 440 L455 462 L380 430 Z"/>
<path fill="#fff" stroke-width="7.82" d="M590 455 Q585 430 615 420 L665 400 L690 430 L645 480 Q605 490 590 455 Z"/>
<ellipse fill="#000" stroke-width="6.25" cx="612" cy="465" rx="15" ry="18"/>
<path fill="#fff" stroke-width="7.82" d="M370 615 Q365 590 395 580 L470 500 L500 530 L440 640 Q390 660 370 615 Z"/>
<ellipse fill="#000" stroke-width="6.25" cx="400" cy="625" rx="18" ry="20"/>
<path fill="#fff" stroke-width="7.82" d="M280 430 L440 500 L430 515 L270 448 Z"/>
<path fill="#fff" stroke-width="7.82" d="M300 470 L420 525 L410 540 L310 495 Z"/>
<path fill="#fff" stroke-width="7.82" d="M340 530 L400 560 L380 590 L335 560 Z"/>
<path fill="#fff" stroke-width="7.82" d="M85 470 L110 455 L150 520 L200 540 L185 565 L110 535 Z"/>
<path fill="#fff" stroke-width="7.82" d="M195 440 L225 470 L210 490 L180 460 Z"/>
<path fill="#fff" stroke-width="7.82" d="M260 470 L300 500 L270 520 L245 500 Z"/>
<path fill="#fff" stroke-width="7.82" d="M215 330 L245 340 L250 400 L220 410 Z"/>
<path fill="#fff" stroke-width="7.82" d="M540 560 L680 615 L672 632 L530 578 Z"/>
<path fill="#fff" stroke-width="7.82" d="M520 595 L610 635 L590 660 L510 620 Z"/>
<path fill="#fff" stroke-width="7.82" d="M640 500 L700 520 L690 545 L630 520 Z"/>
<path fill="#fff" stroke-width="7.82" d="M700 540 L760 520 L800 580 L760 640 L730 600 Z"/>
<path fill="#fff" stroke-width="7.82" d="M770 345 L830 365 L815 395 L760 375 Z"/>
<path fill="#fff" stroke-width="7.82" d="M840 400 L870 440 L850 490 L825 450 Z"/>
<path fill="#fff" stroke-width="7.82" d="M720 400 L770 420 L760 445 L715 425 Z"/>
<path fill="#fff" stroke-width="7.82" d="M680 470 L800 520 L795 535 L675 488 Z"/>
<path fill="#fff" stroke-width="7.82" d="M825 625 L845 740 L825 765 L805 650 Z"/>
<path fill="#fff" stroke-width="7.82" d="M700 780 L780 830 L790 812 L715 760 Z"/>
<path fill="#fff" stroke-width="7.82" d="M650 640 L700 690 L680 710 L640 670 Z"/>
<path fill="#fff" stroke-width="7.82" d="M735 690 L775 720 L760 750 L725 720 Z"/>

<path fill="#fff" stroke-width="7.82" d="M120 150 L170 115 L200 125 L150 165 Z"/>
<path fill="#fff" stroke-width="7.82" d="M185 150 L240 175 L225 200 L175 175 Z"/>
<path fill="#fff" stroke-width="7.82" d="M300 200 L345 235 L320 250 L285 225 Z"/>
<path fill="#fff" stroke-width="7.82" d="M400 300 L640 400 L650 380 L410 280 Z"/>
<path fill="#fff" stroke-width="7.82" d="M385 318 L655 425 L610 452 L430 395 Q390 375 385 318 Z"/>
<path fill="#fff" stroke-width="7.82" d="M470 440 L590 490 L580 510 L460 462 Z"/>
<path fill="#fff" stroke-width="7.82" d="M140 410 L190 395 L200 420 L150 440 Z"/>
<path fill="#fff" stroke-width="7.82" d="M100 480 L150 530 L205 548 L200 575 L110 540 L80 475 Z"/>
<path fill="#fff" stroke-width="7.82" d="M230 520 L275 500 L290 515 L240 545 Z"/>
<path fill="#fff" stroke-width="7.82" d="M500 540 L540 560 L520 600 L490 580 Z"/>
<path fill="#fff" stroke-width="7.82" d="M690 360 L750 340 L765 360 L700 385 Z"/>
<path fill="#fff" stroke-width="7.82" d="M780 440 L830 470 L815 500 L770 470 Z"/>
<path fill="#fff" stroke-width="7.82" d="M770 560 L800 600 L770 650 L745 610 Z"/>
<path fill="#fff" stroke-width="7.82" d="M660 740 L700 800 L720 790 L680 730 Z"/>
<path fill="#fff" stroke-width="7.82" d="M760 770 L810 800 L800 830 L755 800 Z"/>
<path fill="#fff" stroke-width="7.82" d="M600 640 L650 690 L630 700 L590 660 Z"/>
<path stroke-width="6.25" stroke-dasharray="62.5 15.6 11.7 15.6" stroke-linecap="butt" d="M205 595 L208 785"/>
<path stroke-width="6.25" stroke-dasharray="62.5 15.6 11.7 15.6" stroke-linecap="butt" d="M410 668 L208 785"/>
<path stroke-width="6.25" stroke-dasharray="62.5 15.6 11.7 15.6" stroke-linecap="butt" d="M640 725 L208 785"/>
<path stroke-width="11.33" d="M208 785 L140 860"/>

</g>

<!-- 18_panel.svg -->
<g transform="translate(755,230) scale(0.19732)" fill="none" stroke="#000" stroke-linejoin="round" stroke-linecap="round">

<path stroke-width="10.64" d="M370 50 Q440 60 500 85 L700 175 Q820 235 908 298 L890 330 L660 690 L655 720 L690 750 L760 775 L775 800 L850 835 L850 860 L820 880 L700 850 L660 900 L565 860 L600 800 L200 625 L175 640 L115 665 L35 615 L70 545 L90 520 L140 510 L240 535 Q270 530 290 495 L355 215 L335 185 L345 100 Z"/>
<path stroke-width="7.35" d="M372 215 L318 480 Q300 530 270 545"/>
<path fill="#000" stroke-width="4.05" d="M355 60 L400 75 L410 100 L395 110 L388 160 L362 172 L350 150 L360 100 Z"/>
<path fill="#fff" stroke-width="5.07" d="M368 95 L385 100 L380 140 L366 145 Z"/>
<path stroke-width="15.20" d="M400 88 Q470 105 520 128 L700 205 Q800 255 885 312"/>
<path stroke-width="7.35" d="M410 110 Q470 125 520 148 L690 225 Q790 275 870 330"/>
<circle stroke-width="15.20" cx="510" cy="165" r="25"/>
<circle stroke-width="15.20" cx="568" cy="160" r="22"/>
<path fill="#000" stroke-width="4.05" d="M548 145 Q570 130 590 150 Q595 175 580 185 Q590 160 548 145 Z"/>
<circle stroke-width="15.20" cx="682" cy="215" r="25"/>
<path fill="#000" stroke-width="4.05" d="M660 200 Q682 182 705 205 Q710 230 695 240 Q705 212 660 200 Z"/>
<circle stroke-width="15.20" cx="752" cy="272" r="27"/>
<path fill="#000" stroke-width="4.05" d="M480 150 Q500 132 528 150 Q500 148 480 150 Z"/>
<path stroke-width="15.20" d="M562 215 L728 285 Q745 300 735 318 Q722 338 700 330 L548 268 Q530 255 538 235 Q548 212 562 215 Z"/>
<path stroke-width="10.64" d="M575 232 L715 292 Q725 300 720 312 Q712 322 700 318 L560 260 Q550 252 555 240 Q562 230 575 232 Z"/>
<path stroke-width="7.35" d="M395 115 L455 368"/>
<path stroke-width="10.64" d="M455 368 L760 498"/>
<path stroke-width="7.35" d="M458 392 L745 518"/>
<circle stroke-width="15.20" cx="615" cy="375" r="30"/>

<path stroke-width="10.64" d="M455 395 L415 640 Q418 660 432 667 L545 720 Q562 720 572 705 L700 515"/>
<path stroke-width="7.35" d="M476 402 L436 632 Q438 650 452 656 L545 700 Q560 700 567 690 L682 522"/>
<path stroke-width="4.81" d="M495 405 L445 640"/>
<path stroke-width="7.35" d="M612 410 L465 742"/>
<path stroke-width="7.35" d="M245 542 Q290 640 360 600 Q385 580 388 520"/>
<path stroke-width="4.81" d="M262 540 Q300 610 350 585"/>
<path stroke-width="4.81" d="M280 535 Q310 590 345 565"/>
<path stroke-width="4.81" d="M300 520 Q320 560 345 545"/>
<path stroke-width="7.35" d="M388 520 L455 395"/>
<path stroke-width="7.35" d="M870 338 L632 692 L628 725 L660 748"/>
<path stroke-width="7.35" d="M850 345 L618 690"/>
<path stroke-width="7.35" d="M195 642 L590 818"/>
<path stroke-width="7.35" d="M285 610 L278 660"/>
<path stroke-width="7.35" d="M240 535 L210 600 L200 625"/>
<path stroke-width="7.35" d="M70 545 Q90 560 180 540 M90 520 Q100 545 200 528"/>
<path stroke-width="7.35" d="M70 560 L175 600 L240 560"/>
<g transform="translate(138,572) rotate(22)"><rect x="-29.0" y="-23.0" width="58" height="46" fill="#000" stroke="#000" stroke-width="4"/><rect x="-14.5" y="-11.5" width="29.0" height="23.0" fill="none" stroke="#fff" stroke-width="4"/><circle cx="0" cy="0" r="5.75" fill="#000"/></g><g transform="translate(100,625) rotate(22)"><rect x="-27.0" y="-21.0" width="54" height="42" fill="#000" stroke="#000" stroke-width="4"/><rect x="-13.5" y="-10.5" width="27.0" height="21.0" fill="none" stroke="#fff" stroke-width="4"/><circle cx="0" cy="0" r="5.25" fill="#000"/></g><g transform="translate(490,255) rotate(22)"><rect x="-36.0" y="-36.0" width="72" height="72" fill="#000" stroke="#000" stroke-width="4"/><rect x="-18.0" y="-18.0" width="36.0" height="36.0" fill="none" stroke="#fff" stroke-width="4"/><circle cx="0" cy="0" r="9.0" fill="#000"/></g><g transform="translate(735,365) rotate(22)"><rect x="-41.0" y="-31.0" width="82" height="62" fill="#000" stroke="#000" stroke-width="4"/><rect x="-20.5" y="-15.5" width="41.0" height="31.0" fill="none" stroke="#fff" stroke-width="4"/><circle cx="0" cy="0" r="7.75" fill="#000"/></g><g transform="translate(845,318) rotate(22)"><rect x="-31.0" y="-36.0" width="62" height="72" fill="#000" stroke="#000" stroke-width="4"/><rect x="-15.5" y="-18.0" width="31.0" height="36.0" fill="none" stroke="#fff" stroke-width="4"/><circle cx="0" cy="0" r="7.75" fill="#000"/></g><g transform="translate(640,800) rotate(22)"><rect x="-28.0" y="-23.0" width="56" height="46" fill="#000" stroke="#000" stroke-width="4"/><rect x="-14.0" y="-11.5" width="28.0" height="23.0" fill="none" stroke="#fff" stroke-width="4"/><circle cx="0" cy="0" r="5.75" fill="#000"/></g><g transform="translate(605,855) rotate(22)"><rect x="-30.0" y="-23.0" width="60" height="46" fill="#000" stroke="#000" stroke-width="4"/><rect x="-15.0" y="-11.5" width="30.0" height="23.0" fill="none" stroke="#fff" stroke-width="4"/><circle cx="0" cy="0" r="5.75" fill="#000"/></g>
<path fill="#000" stroke-width="4.05" d="M700 790 L770 800 L840 838 L845 862 L815 872 L720 850 L705 820 Z"/>
<path fill="#fff" stroke-width="5.07" d="M740 815 L800 835 L790 850 L735 835 Z"/>
<path fill="#fff" stroke-width="5.07" d="M805 845 L830 852 L822 862 L800 856 Z"/>
<path stroke-width="7.35" d="M655 720 L640 760 L700 790"/>
<path stroke-width="4.05" stroke-dasharray="40.5 10.1 7.6 10.1" stroke-linecap="butt" d="M180 360 L178 510"/>
<path stroke-width="4.05" stroke-dasharray="40.5 10.1 7.6 10.1" stroke-linecap="butt" d="M900 680 L790 810"/>
<path stroke-width="4.05" stroke-dasharray="40.5 10.1 7.6 10.1" stroke-linecap="butt" d="M545 50 L520 130"/>
<path stroke-width="4.05" stroke-dasharray="40.5 10.1 7.6 10.1" stroke-linecap="butt" d="M780 150 L765 195"/>
<path stroke-width="4.05" stroke-dasharray="40.5 10.1 7.6 10.1" stroke-linecap="butt" d="M490 805 L560 808"/>
<path stroke-width="4.05" stroke-dasharray="40.5 10.1 7.6 10.1" stroke-linecap="butt" d="M470 858 L560 858"/>
<path stroke-width="4.05" stroke-dasharray="40.5 10.1 7.6 10.1" stroke-linecap="butt" d="M160 665 L120 690"/>

</g>

<!-- 80_dashdot.svg -->
<g fill="none" stroke="#000" stroke-width="0.9" stroke-dasharray="8 2 1.5 2">
<path d="M506.3 493.4 L440 560"/>
<path d="M529.7 538.6 L481.4 582.7"/>
<path d="M533.8 583.8 L463.5 648.4"/>
<path d="M571.1 600.8 L505.3 672.3"/>
<path d="M620.5 579.5 L541.2 660.3"/>
<path d="M702.5 581.5 L543 766"/>
<path d="M609.9 735.6 L553.3 795.4"/>
<path d="M307.4 682.1 L357 660"/>
<path d="M300.5 683.5 L361.4 629.4"/>
<path d="M217.6 687.7 L298.2 730.9"/>
<path d="M229.1 731.9 L282.8 752"/>
<path d="M568.2 827.4 L640 860"/>
<path d="M554.6 861.4 L561.4 865.2"/>
<path d="M445.4 512 L443.5 521"/>
<path d="M727.3 637.6 L723.5 648"/>
<path d="M455.5 877.9 L484.7 865.2"/>
<path d="M346.1 862.2 L334.6 823"/>
<path d="M347.5 861.5 L418.6 842.5"/>
</g>

<!-- 90_fasteners.svg -->
<g id="fast">
<path transform="translate(521.4,89.7) rotate(11.2) scale(1.063)" d="M-3 -3.5 Q-3.5 -5.5 -1 -5.6 L1.5 -5.2 Q3 -4 3 -2.8 L4 -3.4 L12 -1.8 L14 -0.6 L14 0.8 L12 2 L4 3.4 L3 2.8 Q3 4 1.5 5.2 L-1 5.6 Q-3.5 5.5 -3 3.5 Z" fill="#000"/>
<path transform="translate(757.2,162.5) rotate(178.5) scale(1.065)" d="M-3 -3.5 Q-3.5 -5.5 -1 -5.6 L1.5 -5.2 Q3 -4 3 -2.8 L4 -3.4 L12 -1.8 L14 -0.6 L14 0.8 L12 2 L4 3.4 L3 2.8 Q3 4 1.5 5.2 L-1 5.6 Q-3.5 5.5 -3 3.5 Z" fill="#000"/>
<path transform="translate(346.4,239.9) rotate(113.9) scale(1.023)" d="M-3 -3.5 Q-3.5 -5.5 -1 -5.6 L1.5 -5.2 Q3 -4 3 -2.8 L4 -3.4 L12 -1.8 L14 -0.6 L14 0.8 L12 2 L4 3.4 L3 2.8 Q3 4 1.5 5.2 L-1 5.6 Q-3.5 5.5 -3 3.5 Z" fill="#000"/>
<path transform="translate(359.6,239.0) rotate(110.6) scale(1.015)" d="M-3 -3.5 Q-3.5 -5.5 -1 -5.6 L1.5 -5.2 Q3 -4 3 -2.8 L4 -3.4 L12 -1.8 L14 -0.6 L14 0.8 L12 2 L4 3.4 L3 2.8 Q3 4 1.5 5.2 L-1 5.6 Q-3.5 5.5 -3 3.5 Z" fill="#000"/>
<path transform="translate(398.4,269.6) rotate(115.1) scale(0.978)" d="M-3 -3.5 Q-3.5 -5.5 -1 -5.6 L1.5 -5.2 Q3 -4 3 -2.8 L4 -3.4 L12 -1.8 L14 -0.6 L14 0.8 L12 2 L4 3.4 L3 2.8 Q3 4 1.5 5.2 L-1 5.6 Q-3.5 5.5 -3 3.5 Z" fill="#000"/>
<path transform="translate(1010.9,476.2) rotate(108.6) scale(0.964)" d="M-3 -3.5 Q-3.5 -5.5 -1 -5.6 L1.5 -5.2 Q3 -4 3 -2.8 L4 -3.4 L12 -1.8 L14 -0.6 L14 0.8 L12 2 L4 3.4 L3 2.8 Q3 4 1.5 5.2 L-1 5.6 Q-3.5 5.5 -3 3.5 Z" fill="#000"/>
<path transform="translate(1045.4,489.0) rotate(110.2) scale(0.974)" d="M-3 -3.5 Q-3.5 -5.5 -1 -5.6 L1.5 -5.2 Q3 -4 3 -2.8 L4 -3.4 L12 -1.8 L14 -0.6 L14 0.8 L12 2 L4 3.4 L3 2.8 Q3 4 1.5 5.2 L-1 5.6 Q-3.5 5.5 -3 3.5 Z" fill="#000"/>
<path transform="translate(1078.6,500.8) rotate(111.1) scale(0.972)" d="M-3 -3.5 Q-3.5 -5.5 -1 -5.6 L1.5 -5.2 Q3 -4 3 -2.8 L4 -3.4 L12 -1.8 L14 -0.6 L14 0.8 L12 2 L4 3.4 L3 2.8 Q3 4 1.5 5.2 L-1 5.6 Q-3.5 5.5 -3 3.5 Z" fill="#000"/>
<path transform="translate(386.4,247.3) rotate(118.9) scale(1.2)" d="M-3 -3 Q-3.5 -5 -1 -5.2 L1.5 -4.8 Q3 -3.5 3 -2 L3 2 Q3 3.5 1.5 4.8 L-1 5.2 Q-3.5 5 -3 3 Z" fill="#000"/><rect transform="translate(386.4,247.3) rotate(118.9) scale(1.0)" x="3.4" y="-2.4" width="4.6" height="4.8" fill="#fff" stroke="#000" stroke-width="1.3"/>
<path transform="translate(1107.8,508.6) rotate(101.2) scale(1.2)" d="M-3 -3 Q-3.5 -5 -1 -5.2 L1.5 -4.8 Q3 -3.5 3 -2 L3 2 Q3 3.5 1.5 4.8 L-1 5.2 Q-3.5 5 -3 3 Z" fill="#000"/><rect transform="translate(1107.8,508.6) rotate(101.2) scale(1.0)" x="3.4" y="-2.4" width="4.6" height="4.8" fill="#fff" stroke="#000" stroke-width="1.3"/>
<path transform="translate(380.2,356.4) rotate(-158.6) scale(1.0)" d="M-3.2 -5 Q-5 0 -3.2 6.5 Q-1 8 1.5 6.5 L2 4.2 L12 3 Q14 0 12 -2.6 L2 -3.6 L1.5 -5.5 Q-1 -7 -3.2 -5 Z" fill="#000"/>
<path transform="translate(977.8,578.1) rotate(16.1) scale(1.0)" d="M-3.2 -5 Q-5 0 -3.2 6.5 Q-1 8 1.5 6.5 L2 4.2 L12 3 Q14 0 12 -2.6 L2 -3.6 L1.5 -5.5 Q-1 -7 -3.2 -5 Z" fill="#000"/>
<g transform="translate(562.5,158.9) rotate(0.0) scale(1.0)"><circle cx="0" cy="0" r="5.2" fill="#000"/><path d="M-3 0.5 Q0 3 3 0.5" stroke="#fff" stroke-width="0.9" fill="none"/><ellipse cx="0" cy="7" rx="2" ry="2.7" fill="#fff" stroke="#000" stroke-width="1.9"/></g>
<g transform="translate(687.3,207.4) rotate(0.0) scale(1.0)"><circle cx="0" cy="0" r="5.2" fill="#000"/><path d="M-3 0.5 Q0 3 3 0.5" stroke="#fff" stroke-width="0.9" fill="none"/><ellipse cx="0" cy="7" rx="2" ry="2.7" fill="#fff" stroke="#000" stroke-width="1.9"/></g>
<g transform="translate(790.1,289.7) rotate(0.0) scale(1.0)"><circle cx="0" cy="0" r="5.2" fill="#000"/><path d="M-3 0.5 Q0 3 3 0.5" stroke="#fff" stroke-width="0.9" fill="none"/><ellipse cx="0" cy="7" rx="2" ry="2.7" fill="#fff" stroke="#000" stroke-width="1.9"/></g>
<g transform="translate(933.7,352.3) rotate(0.0) scale(1.0)"><circle cx="0" cy="0" r="5.2" fill="#000"/><path d="M-3 0.5 Q0 3 3 0.5" stroke="#fff" stroke-width="0.9" fill="none"/><ellipse cx="0" cy="7" rx="2" ry="2.7" fill="#fff" stroke="#000" stroke-width="1.9"/></g>
<circle cx="508.9" cy="489" r="5.0" fill="#000"/>
<circle cx="532.5" cy="534.8" r="5.0" fill="#000"/>
<circle cx="536.3" cy="579.7" r="5.0" fill="#000"/>
<circle cx="574.1" cy="596.5" r="5.0" fill="#000"/>
<circle cx="623.7" cy="576.1" r="5.0" fill="#000"/>
<circle cx="705.7" cy="578.4" r="5.0" fill="#000"/>
<circle cx="372.8" cy="781.9" r="5.0" fill="#000"/>
<g transform="translate(863.6,229.6) rotate(20)"><rect x="-5.5" y="-5.5" width="11" height="11" fill="#000"/><path d="M-2.5 -2 L2.5 -2 M-2.5 1.5 L2.5 1.5" stroke="#fff" stroke-width="0.8"/></g>
<g transform="translate(910.1,251.7) rotate(20)"><rect x="-5.5" y="-5.5" width="11" height="11" fill="#000"/><path d="M-2.5 -2 L2.5 -2 M-2.5 1.5 L2.5 1.5" stroke="#fff" stroke-width="0.8"/></g>
<g transform="translate(789.6,368.1) rotate(20)"><path d="M-7.0 -3.5 L5.0 -4.5 L7.0 3.5 L-5.0 4.5 Z" fill="#000" stroke="#000" stroke-width="1" stroke-linejoin="round"/><path d="M-2.8 -0.3 L1.75 -0.8" stroke="#fff" stroke-width="0.6"/></g>
<g transform="translate(782.6,377.3) rotate(20)"><path d="M-7.0 -3.5 L5.0 -4.5 L7.0 3.5 L-5.0 4.5 Z" fill="#000" stroke="#000" stroke-width="1" stroke-linejoin="round"/><path d="M-2.8 -0.3 L1.75 -0.8" stroke="#fff" stroke-width="0.6"/></g>
<g transform="translate(846.4,390.3) rotate(20)"><path d="M-7.0 -3.5 L5.0 -4.5 L7.0 3.5 L-5.0 4.5 Z" fill="#000" stroke="#000" stroke-width="1" stroke-linejoin="round"/><path d="M-2.8 -0.3 L1.75 -0.8" stroke="#fff" stroke-width="0.6"/></g>
<g transform="translate(840.8,399.4) rotate(20)"><path d="M-7.0 -3.5 L5.0 -4.5 L7.0 3.5 L-5.0 4.5 Z" fill="#000" stroke="#000" stroke-width="1" stroke-linejoin="round"/><path d="M-2.8 -0.3 L1.75 -0.8" stroke="#fff" stroke-width="0.6"/></g>
<g transform="translate(338.9,671.8) rotate(15)"><path d="M-7.0 -3.0 L5.0 -4.0 L7.0 3.0 L-5.0 4.0 Z" fill="#000" stroke="#000" stroke-width="1" stroke-linejoin="round"/><path d="M-2.8 -0.3 L1.75 -0.8" stroke="#fff" stroke-width="0.6"/></g>
<g transform="translate(539.6,769.1) rotate(15)"><path d="M-7.0 -3.0 L5.0 -4.0 L7.0 3.0 L-5.0 4.0 Z" fill="#000" stroke="#000" stroke-width="1" stroke-linejoin="round"/><path d="M-2.8 -0.3 L1.75 -0.8" stroke="#fff" stroke-width="0.6"/></g>
<g transform="translate(242.5,735.7) rotate(-65)"><path d="M-6.0 -2.75 L4.0 -3.75 L6.0 2.75 L-4.0 3.75 Z" fill="#000" stroke="#000" stroke-width="1" stroke-linejoin="round"/><path d="M-2.4 -0.3 L1.5 -0.8" stroke="#000" stroke-width="0.6"/></g>
<g transform="translate(265.6,754.9) rotate(-65)"><path d="M-6.0 -2.75 L4.0 -3.75 L6.0 2.75 L-4.0 3.75 Z" fill="#000" stroke="#000" stroke-width="1" stroke-linejoin="round"/><path d="M-2.4 -0.3 L1.5 -0.8" stroke="#000" stroke-width="0.6"/></g>
<g transform="translate(549.7,860) rotate(-65)"><path d="M-6.0 -2.75 L4.0 -3.75 L6.0 2.75 L-4.0 3.75 Z" fill="#000" stroke="#000" stroke-width="1" stroke-linejoin="round"/><path d="M-2.4 -0.3 L1.5 -0.8" stroke="#000" stroke-width="0.6"/></g>
<g transform="translate(529.7,868.2) rotate(-65)"><path d="M-6.0 -2.75 L4.0 -3.75 L6.0 2.75 L-4.0 3.75 Z" fill="#000" stroke="#000" stroke-width="1" stroke-linejoin="round"/><path d="M-2.4 -0.3 L1.5 -0.8" stroke="#000" stroke-width="0.6"/></g>
<path transform="translate(447.4,501.7) rotate(101.1) scale(1.2)" d="M-2.6 -3.6 Q-3.6 0 -2.6 3.6 L0.8 4.2 L1.4 2 L7.5 1.3 L9 0 L7.5 -1.3 L1.4 -2 L0.8 -4.2 Z" fill="#000"/>
<path transform="translate(730.3,627.4) rotate(106.4) scale(1.2)" d="M-2.6 -3.6 Q-3.6 0 -2.6 3.6 L0.8 4.2 L1.4 2 L7.5 1.3 L9 0 L7.5 -1.3 L1.4 -2 L0.8 -4.2 Z" fill="#000"/>
<path transform="translate(221.4,727.1) rotate(31.9) scale(1.2)" d="M-2.6 -3.6 Q-3.6 0 -2.6 3.6 L0.8 4.2 L1.4 2 L7.5 1.3 L9 0 L7.5 -1.3 L1.4 -2 L0.8 -4.2 Z" fill="#000"/>
<path transform="translate(314.0,810.8) rotate(-150.8) scale(1.2)" d="M-2.6 -3.6 Q-3.6 0 -2.6 3.6 L0.8 4.2 L1.4 2 L7.5 1.3 L9 0 L7.5 -1.3 L1.4 -2 L0.8 -4.2 Z" fill="#000"/>
<path transform="translate(344.8,870.6) rotate(-81.2) scale(1.2)" d="M-2.6 -3.6 Q-3.6 0 -2.6 3.6 L0.8 4.2 L1.4 2 L7.5 1.3 L9 0 L7.5 -1.3 L1.4 -2 L0.8 -4.2 Z" fill="#000"/>
<path transform="translate(445.6,878.0) rotate(-5.5) scale(1.2)" d="M-2.6 -3.6 Q-3.6 0 -2.6 3.6 L0.8 4.2 L1.4 2 L7.5 1.3 L9 0 L7.5 -1.3 L1.4 -2 L0.8 -4.2 Z" fill="#000"/>
<path transform="translate(570.1,868.2) rotate(-161.0) scale(1.2)" d="M-2.6 -3.6 Q-3.6 0 -2.6 3.6 L0.8 4.2 L1.4 2 L7.5 1.3 L9 0 L7.5 -1.3 L1.4 -2 L0.8 -4.2 Z" fill="#000"/>
<path transform="translate(320.6,835.1) rotate(-161.2) scale(1.0)" d="M-3 -5.5 Q-4.5 0 -3 5.5 L0 6.2 L1 3.6 L4 3.8 L5 5 L7 4.6 L7.5 3 L12 2 L13.5 0 L12 -2 L7.5 -3 L7 -4.6 L5 -5 L4 -3.8 L1 -3.6 L0 -6.2 Z" fill="#000"/>
<path transform="translate(450.5,853.7) rotate(19.0) scale(1.0)" d="M-3 -5.5 Q-4.5 0 -3 5.5 L0 6.2 L1 3.6 L4 3.8 L5 5 L7 4.6 L7.5 3 L12 2 L13.5 0 L12 -2 L7.5 -3 L7 -4.6 L5 -5 L4 -3.8 L1 -3.6 L0 -6.2 Z" fill="#000"/>
<g transform="translate(204.1,682.9) rotate(21.9)"><ellipse cx="0" cy="0" rx="4.8" ry="7" fill="#000"/><rect x="3.5" y="-2.6" width="13" height="5.2" fill="#fff" stroke="#000" stroke-width="1.3"/></g>
<g transform="translate(232.6,694.5) rotate(22)"><rect x="-5.5" y="-5" width="11" height="10" rx="1.5" fill="#000"/><rect x="-1.2" y="-2.2" width="3.6" height="4.4" fill="#fff"/><ellipse cx="-3.4" cy="0" rx="0.9" ry="2.2" fill="#fff"/></g>
<g transform="translate(250.8,703.1) rotate(22)"><rect x="-6.5" y="-9" width="13.0" height="18" rx="3" ry="5" fill="#000"/><path d="M-2.5 -7.5 L-2.5 7.5" stroke="#fff" stroke-width="0.7"/></g>
<g transform="translate(638,859.4) rotate(-154.9)"><ellipse cx="0" cy="0" rx="4.8" ry="7" fill="#000"/><rect x="3.5" y="-2.6" width="13" height="5.2" fill="#fff" stroke="#000" stroke-width="1.3"/></g>
<g transform="translate(613.8,849.1) rotate(25)"><rect x="-5.5" y="-5" width="11" height="10" rx="1.5" fill="#000"/><rect x="-1.2" y="-2.2" width="3.6" height="4.4" fill="#fff"/><ellipse cx="-3.4" cy="0" rx="0.9" ry="2.2" fill="#fff"/></g>
<g transform="translate(594,840) rotate(25)"><rect x="-6.5" y="-9" width="13.0" height="18" rx="3" ry="5" fill="#000"/><path d="M-2.5 -7.5 L-2.5 7.5" stroke="#fff" stroke-width="0.7"/></g>
<g transform="translate(988.9,186.6) rotate(-45)"><ellipse cx="0" cy="0" rx="9.5" ry="9" fill="#000"/><path d="M-4 2 Q-1 -5 4 -1" stroke="#fff" stroke-width="1" fill="none"/><circle cx="0.5" cy="1.5" r="2" stroke="#fff" stroke-width="0.8" fill="none"/></g>
<g transform="translate(974.6,202.7) rotate(-45)"><rect x="-5.5" y="-5" width="11" height="10" rx="1.5" fill="#000"/><rect x="-1.2" y="-2.2" width="3.6" height="4.4" fill="#fff"/><ellipse cx="-3.4" cy="0" rx="0.9" ry="2.2" fill="#fff"/></g>
<g transform="translate(953.9,225.8) rotate(-45)"><ellipse cx="0" cy="0" rx="6" ry="7" fill="#000"/><rect x="5" y="-2.4" width="5" height="4.8" rx="1.5" fill="#fff" stroke="#000" stroke-width="1.6"/></g>
<path d="M1002.3 171.2 L960.6 218.3" stroke="#000" stroke-width="1" fill="none"/>
</g>

<!-- 95_fwd.svg -->
<g transform="translate(60,810) scale(0.09599)" fill="none" stroke="#000" stroke-linejoin="round" stroke-linecap="round">

<path stroke-width="15.11" d="M215 720 L455 410 L475 470 L835 295 L860 490 L495 672 L510 755 Z"/>
<path stroke-width="15.11" d="M215 720 L155 690 L405 370 L465 405 L455 410 M465 405 L470 420 M470 412 L770 258 L835 295"/>
<text transform="translate(448,690) rotate(-26) skewX(-10) scale(0.72,1)" font-family="Liberation Serif" font-weight="bold" font-style="italic" font-size="240" fill="#000" stroke="#000" stroke-width="7">FWD</text>

</g>

<g class="ld">
<polyline points="478.6,90.5 518.0,90.5"/>
<polyline points="514.6,161.5 557.0,161.5"/>
<polyline points="343.5,199.0 343.5,235.0"/>
<polyline points="361.5,199.0 361.5,235.0"/>
<polyline points="390.0,248.5 430.0,248.5"/>
<polyline points="403.4,269.5 442.0,269.5"/>
<polyline points="385.9,357.5 425.0,357.5"/>
<polyline points="344.5,370.8 344.5,407.0"/>
<polyline points="597.5,280.6 597.5,310.7"/>
<polyline points="446.5,458.0 446.5,497.0"/>
<polyline points="760.8,163.5 801.4,163.5"/>
<polyline points="692.7,207.5 733.9,207.5"/>
<polyline points="882.4,192.2 867.2,224.0"/>
<polyline points="882.4,192.2 910.1,246.2"/>
<polyline points="1090.0,126.5 1130.0,126.5"/>
<polyline points="998.2,188.5 1038.3,188.5"/>
<polyline points="981.7,204.5 1020.8,204.5"/>
<polyline points="960.0,228.5 1004.7,228.5"/>
<polyline points="934.1,289.5 973.2,289.5"/>
<polyline points="747.7,291.5 785.0,291.5"/>
<polyline points="940.6,354.5 978.2,354.5"/>
<polyline points="792.3,422.1 786.8,383.4"/>
<polyline points="792.3,422.1 791.5,373.5"/>
<polyline points="792.3,422.1 836.7,394.4"/>
<polyline points="792.3,422.1 836.7,401.4"/>
<polyline points="355.9,550.5 392.4,550.5"/>
<polyline points="639.7,501.0 514.5,489.3"/>
<polyline points="639.7,501.0 536.8,533.0"/>
<polyline points="639.7,501.0 539.4,576.1"/>
<polyline points="639.7,501.0 576.7,591.9"/>
<polyline points="639.7,501.0 625.2,571.1"/>
<polyline points="643.5,501.7 702.4,574.6"/>
<polyline points="322.2,633.0 341.4,668.5"/>
<polyline points="181.1,640.0 203.2,678.1"/>
<polyline points="210.0,651.0 230.0,691.6"/>
<polyline points="233.0,657.4 249.3,696.4"/>
<polyline points="176.3,741.5 217.6,728.0"/>
<polyline points="198.4,754.0 237.7,740.5"/>
<polyline points="198.4,754.0 260.8,758.2"/>
<polyline points="199.4,788.7 279.0,767.4"/>
<polyline points="369.6,743.5 374.4,776.8"/>
<polyline points="270.1,824.8 309.3,812.7"/>
<polyline points="252.4,854.7 306.6,833.2"/>
<polyline points="303.7,884.6 340.2,871.5"/>
<polyline points="389.6,876.2 446.6,854.7"/>
<polyline points="483.7,896.3 448.7,882.7"/>
<polyline points="493.0,767.2 532.2,768.7"/>
<polyline points="539.5,774.0 539.5,808.0"/>
<polyline points="567.2,888.5 533.2,874.0"/>
<polyline points="592.4,861.4 554.6,857.5"/>
<polyline points="611.8,874.0 575.0,869.1"/>
<polyline points="642.0,820.6 601.2,832.2"/>
<polyline points="660.4,835.1 619.6,845.8"/>
<polyline points="684.7,842.9 642.9,856.5"/>
<polyline points="738.7,629.5 780.2,629.5"/>
<polyline points="936.6,581.5 973.2,581.5"/>
<polyline points="1113.5,569.5 1150.0,569.5"/>
<polyline points="1056.7,446.4 1014.0,474.1"/>
<polyline points="1056.7,446.4 1048.2,485.8"/>
<polyline points="1056.7,446.4 1080.1,497.6"/>
<polyline points="1086.5,449.6 1107.8,505.0"/>
</g>
<g id="labels">
<text class="lb" transform="translate(459.7,98.5) scale(0.656,1)">12</text>
<text class="lb" transform="translate(495.7,170.3) scale(0.656,1)">20</text>
<text class="lb" transform="translate(333.2,198.4) scale(0.656,1)">12</text>
<text class="lb" transform="translate(354.4,198.4) scale(0.656,1)">12</text>
<text class="lb" transform="translate(429.7,256) scale(0.656,1)">13</text>
<text class="lb" transform="translate(441.2,277) scale(0.656,1)">12</text>
<text class="lb" transform="translate(424.2,364.8) scale(0.656,1)">11</text>
<text class="lb" transform="translate(333.2,430) scale(0.656,1)">14</text>
<text class="lb" transform="translate(589.7,331.7) scale(0.656,1)">15</text>
<text class="lb" transform="translate(442.7,456) scale(0.656,1)">7</text>
<text class="lb" transform="translate(800.5,166.4) scale(0.656,1)">12</text>
<text class="lb" transform="translate(739.2,214) scale(0.656,1)">20</text>
<text class="lb" transform="translate(870.2,189.4) scale(0.656,1)">17</text>
<text class="lb" transform="translate(1130.7,135.3) scale(0.656,1)">16</text>
<text class="lb" transform="translate(1042.5,196) scale(0.656,1)">4</text>
<text class="lb" transform="translate(1024.0,212) scale(0.656,1)">3</text>
<text class="lb" transform="translate(1003.4,239) scale(0.656,1)">19</text>
<text class="lb" transform="translate(980.4,296.7) scale(0.656,1)">18</text>
<text class="lb" transform="translate(737.4,301.2) scale(0.656,1)">8</text>
<text class="lb" transform="translate(987.9,362.8) scale(0.656,1)">8</text>
<text class="lb" transform="translate(785.0,443) scale(0.656,1)">6</text>
<text class="lb" transform="translate(1045.5,443.5) scale(0.656,1)">12</text>
<text class="lb" transform="translate(1074.6,443.5) scale(0.656,1)">13</text>
<text class="lb" transform="translate(344.0,557.7) scale(0.656,1)">9</text>
<text class="lb" transform="translate(638.2,498.6) scale(0.656,1)">8</text>
<text class="lb" transform="translate(313.4,631.4) scale(0.656,1)">6</text>
<text class="lb" transform="translate(173.6,637.4) scale(0.656,1)">2</text>
<text class="lb" transform="translate(202.2,647.9) scale(0.656,1)">3</text>
<text class="lb" transform="translate(224.7,653.9) scale(0.656,1)">4</text>
<text class="lb" transform="translate(167.1,749.1) scale(0.656,1)">7</text>
<text class="lb" transform="translate(189.6,765.2) scale(0.656,1)">6</text>
<text class="lb" transform="translate(182.1,806.8) scale(0.656,1)">1</text>
<text class="lb" transform="translate(363.5,741.6) scale(0.656,1)">8</text>
<text class="lb" transform="translate(262.3,837.3) scale(0.656,1)">7</text>
<text class="lb" transform="translate(243.8,869.4) scale(0.656,1)">5</text>
<text class="lb" transform="translate(294.9,898) scale(0.656,1)">7</text>
<text class="lb" transform="translate(381.1,893.5) scale(0.656,1)">5</text>
<text class="lb" transform="translate(496.3,906) scale(0.656,1)">7</text>
<text class="lb" transform="translate(481.3,774.2) scale(0.656,1)">6</text>
<text class="lb" transform="translate(570.5,895.5) scale(0.656,1)">6</text>
<text class="lb" transform="translate(594.0,868.4) scale(0.656,1)">6</text>
<text class="lb" transform="translate(613.1,884.4) scale(0.656,1)">7</text>
<text class="lb" transform="translate(642.2,819.3) scale(0.656,1)">4</text>
<text class="lb" transform="translate(660.7,832.8) scale(0.656,1)">3</text>
<text class="lb" transform="translate(685.2,841.3) scale(0.656,1)">2</text>
<text class="lb" transform="translate(783.5,637.4) scale(0.656,1)">7</text>
<text class="lb" transform="translate(915.2,589.3) scale(0.656,1)">11</text>
<text class="lb" transform="translate(1150.7,577.2) scale(0.656,1)">10</text>
</g>
</svg></body></html>
